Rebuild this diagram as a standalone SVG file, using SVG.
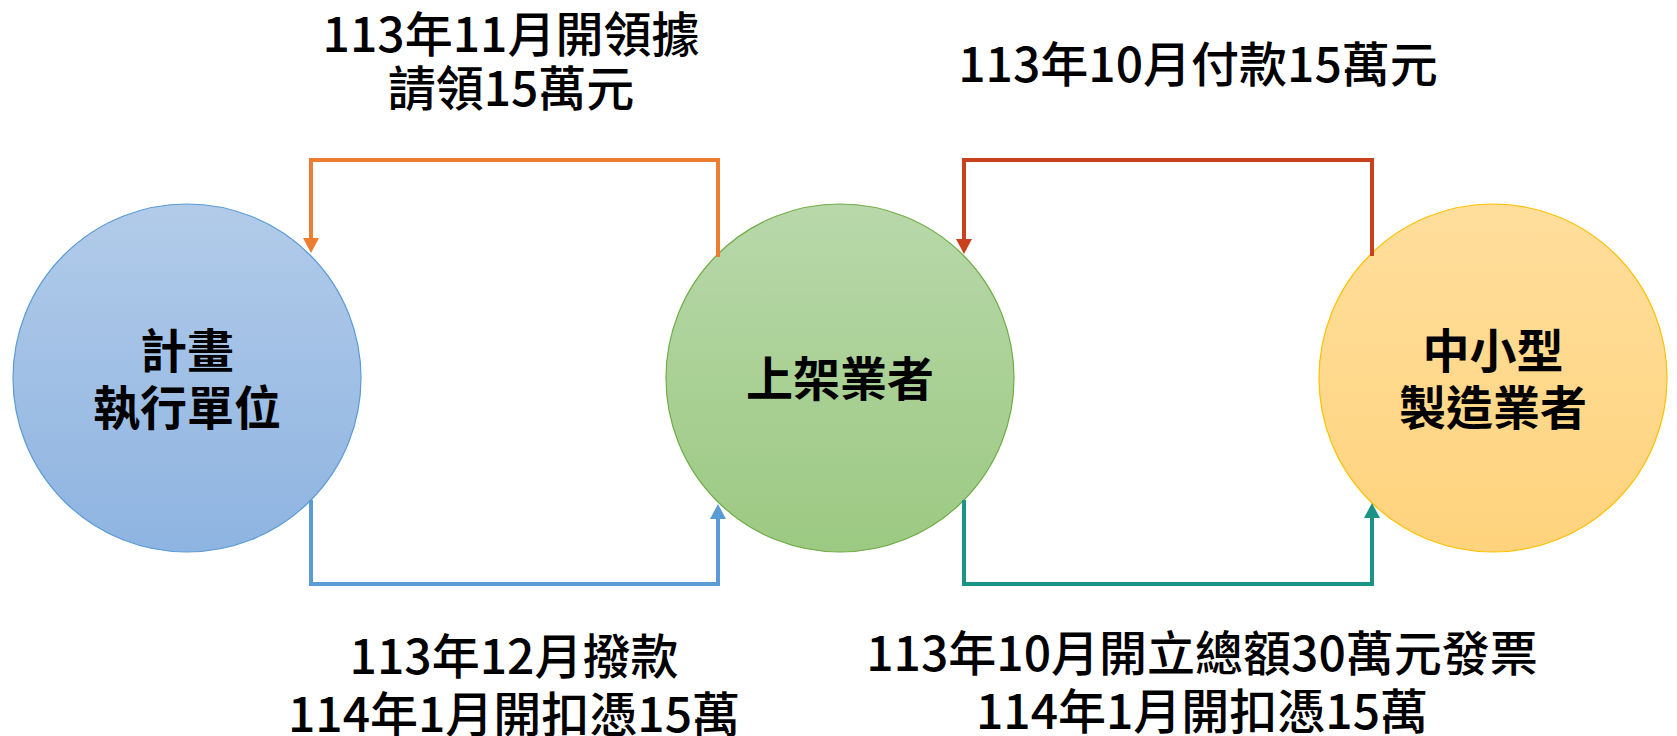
<svg xmlns="http://www.w3.org/2000/svg" width="1677" height="736" viewBox="0 0 1677 736">
  <style>
    .node-text { font-family: "Noto Sans CJK TC", "Noto Sans CJK SC", sans-serif; font-size: 47px; font-weight: 700; fill: #000; text-anchor: middle; }
    .label { font-family: "Noto Sans CJK TC", "Noto Sans CJK SC", sans-serif; font-size: 48px; font-weight: 500; fill: #000; text-anchor: middle; }
    .conn { fill: none; stroke-width: 4; stroke-linejoin: miter; }
  </style>
  <defs>
    <linearGradient id="gBlue" x1="0" y1="0" x2="0" y2="1">
      <stop offset="0" stop-color="#B2CBE9"/>
      <stop offset="1" stop-color="#8EB4E1"/>
    </linearGradient>
    <linearGradient id="gGreen" x1="0" y1="0" x2="0" y2="1">
      <stop offset="0" stop-color="#B8D8AA"/>
      <stop offset="1" stop-color="#9CC982"/>
    </linearGradient>
    <linearGradient id="gYellow" x1="0" y1="0" x2="0" y2="1">
      <stop offset="0" stop-color="#FFDE9C"/>
      <stop offset="1" stop-color="#FFD37D"/>
    </linearGradient>
    <marker id="aOrange" markerUnits="userSpaceOnUse" markerWidth="16" markerHeight="18" viewBox="0 -9 16 18" refX="0" refY="0" orient="auto">
      <path d="M0,-8 L15,0 L0,8 Z" fill="#ED7D31"/>
    </marker>
    <marker id="aBlue" markerUnits="userSpaceOnUse" markerWidth="16" markerHeight="18" viewBox="0 -9 16 18" refX="0" refY="0" orient="auto">
      <path d="M0,-8 L15,0 L0,8 Z" fill="#5B9BD5"/>
    </marker>
    <marker id="aRed" markerUnits="userSpaceOnUse" markerWidth="16" markerHeight="18" viewBox="0 -9 16 18" refX="0" refY="0" orient="auto">
      <path d="M0,-8 L15,0 L0,8 Z" fill="#C9401F"/>
    </marker>
    <marker id="aTeal" markerUnits="userSpaceOnUse" markerWidth="16" markerHeight="18" viewBox="0 -9 16 18" refX="0" refY="0" orient="auto">
      <path d="M0,-8 L15,0 L0,8 Z" fill="#1B9385"/>
    </marker>
  </defs>
  <rect width="1677" height="736" fill="#FFFFFF"/>

  <g id="node-plan">
    <circle cx="187" cy="378" r="174" fill="url(#gBlue)" stroke="#5B9BD5" stroke-width="1.2"/>
    <text class="node-text" x="187" y="368">計畫</text>
    <text class="node-text" x="187" y="425">執行單位</text>
  </g>
  <g id="node-listing">
    <circle cx="840" cy="378" r="174" fill="url(#gGreen)" stroke="#70AD47" stroke-width="1.2"/>
    <text class="node-text" x="840" y="396">上架業者</text>
  </g>
  <g id="node-maker">
    <circle cx="1493" cy="378" r="174" fill="url(#gYellow)" stroke="#FFC000" stroke-width="1.2"/>
    <text class="node-text" x="1493" y="368">中小型</text>
    <text class="node-text" x="1493" y="425">製造業者</text>
  </g>

  <g id="connectors">
    <path class="conn" d="M718,257 V160 H311 V238" stroke="#ED7D31" marker-end="url(#aOrange)"/>
    <path class="conn" d="M311,500 V584 H718 V519" stroke="#5B9BD5" marker-end="url(#aBlue)"/>
    <path class="conn" d="M1372,256 V160 H964 V239" stroke="#C9401F" marker-end="url(#aRed)"/>
    <path class="conn" d="M964,500 V584 H1372 V518" stroke="#1B9385" marker-end="url(#aTeal)"/>
  </g>

  <g id="labels">
    <text class="label" x="511" y="52">113年11月開領據</text>
    <text class="label" x="511" y="106">請領15萬元</text>
    <text class="label" x="1198" y="82">113年10月付款15萬元</text>
    <text class="label" x="514" y="674">113年12月撥款</text>
    <text class="label" x="514" y="732">114年1月開扣憑15萬</text>
    <text class="label" x="1202" y="671">113年10月開立總額30萬元發票</text>
    <text class="label" x="1202" y="729">114年1月開扣憑15萬</text>
  </g>
</svg>
